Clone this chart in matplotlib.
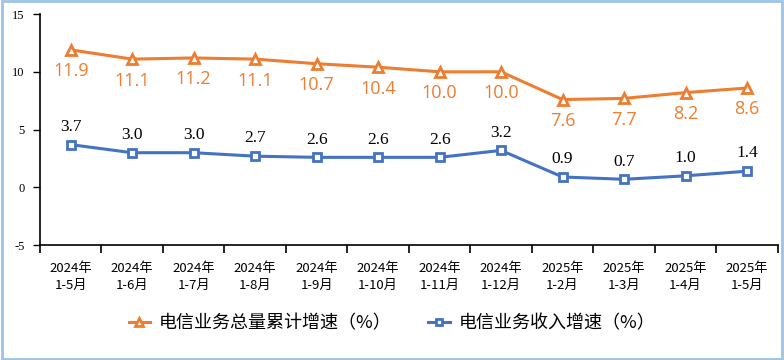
import numpy as np
import matplotlib.pyplot as plt
from matplotlib.patches import Rectangle

months = ['2024年\n1-5月', '2024年\n1-6月', '2024年\n1-7月', '2024年\n1-8月',
          '2024年\n1-9月', '2024年\n1-10月', '2024年\n1-11月', '2024年\n1-12月',
          '2025年\n1-2月', '2025年\n1-3月', '2025年\n1-4月', '2025年\n1-5月']
volume_growth = [11.9, 11.1, 11.2, 11.1, 10.7, 10.4, 10.0, 10.0, 7.6, 7.7, 8.2, 8.6]
revenue_growth = [3.7, 3.0, 3.0, 2.7, 2.6, 2.6, 2.6, 3.2, 0.9, 0.7, 1.0, 1.4]

orange = '#ED7D31'
blue = '#4472C4'
cjk = ['Noto Sans CJK SC', 'DejaVu Sans']

fig = plt.figure(figsize=(7.84, 3.6), dpi=100)
ax = fig.add_axes([0.051, 0.319, 0.941, 0.642])

x = np.arange(len(months))
ax.plot(x, volume_growth, color=orange, lw=2.2, marker='^', ms=7,
        mfc='white', mec=orange, mew=2, label='电信业务总量累计增速（%）')
ax.plot(x, revenue_growth, color=blue, lw=2.2, marker='s', ms=6,
        mfc='white', mec=blue, mew=2, label='电信业务收入增速（%）')

for i, v in enumerate(volume_growth):
    ax.annotate(f'{v:.1f}', (i, v), xytext=(0, -9), textcoords='offset points',
                ha='center', va='top', color=orange, fontsize=13,
                family='Open Sans')
for i, v in enumerate(revenue_growth):
    ax.annotate(f'{v:.1f}', (i, v), xytext=(0, 7), textcoords='offset points',
                ha='center', va='bottom', color='black', fontsize=12.5,
                family='Liberation Serif')

ax.set_xlim(-0.5, len(months) - 0.5)
ax.set_ylim(-5, 15)
ax.set_yticks([-5, 0, 5, 10, 15])
ax.set_yticklabels(['-5', '0', '5', '10', '15'], family='Liberation Serif', fontsize=9)
ax.set_xticks(x)
ax.set_xticklabels(months, family=cjk, fontsize=9.5, linespacing=1.4)
ax.set_xticks(np.arange(len(months) + 1) - 0.5, minor=True)
ax.tick_params(axis='x', which='major', length=0, pad=12)
ax.tick_params(axis='x', which='minor', length=6, width=1.2, direction='out')
ax.tick_params(axis='y', length=5, width=1, pad=6)
ax.spines['top'].set_visible(False)
ax.spines['right'].set_visible(False)
ax.spines['left'].set_linewidth(1.2)
ax.spines['bottom'].set_linewidth(1.2)

fig.legend(loc='center', bbox_to_anchor=(0.5, 0.103), ncol=2, frameon=False,
           prop={'family': cjk, 'size': 13}, handlelength=1.2, columnspacing=2.0,
           handletextpad=0.5, markerscale=0.75)

fig.patches.append(Rectangle((0.002, 0.003), 0.995, 0.993, transform=fig.transFigure,
                             fill=False, edgecolor='#9DC3E6', lw=2))

fig.savefig('out.png', dpi=100)
